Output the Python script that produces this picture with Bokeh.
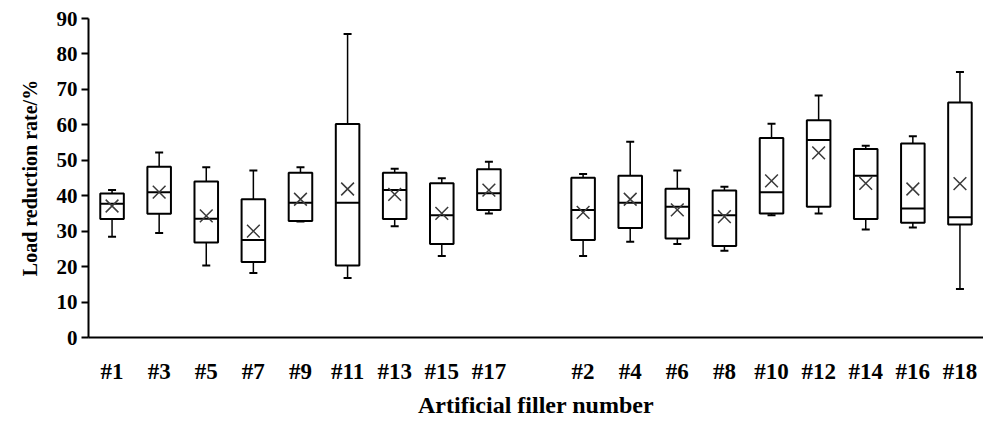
from bokeh.plotting import figure
from bokeh.models import FactorRange, Range1d, ColumnDataSource, FixedTicker, Title
from bokeh.transform import dodge
from bokeh.embed import file_html
from bokeh.resources import INLINE

fillers = ["#1", "#3", "#5", "#7", "#9", "#11", "#13", "#15", "#17",
           "#2", "#4", "#6", "#8", "#10", "#12", "#14", "#16", "#18"]
whisker_low = [28.4, 29.5, 20.3, 18.2, 32.7, 16.8, 31.4, 23.0, 35.0,
               23.0, 27.0, 26.4, 24.5, 34.5, 35.0, 30.5, 31.0, 13.7]
q1 = [33.4, 34.9, 26.8, 21.3, 32.9, 20.3, 33.4, 26.4, 36.0,
      27.5, 30.9, 27.9, 25.8, 35.0, 36.9, 33.4, 32.4, 31.9]
median = [37.7, 41.0, 33.5, 27.5, 38.0, 38.0, 41.6, 34.5, 40.7,
          36.0, 38.0, 36.9, 34.5, 41.0, 55.7, 45.6, 36.4, 33.9]
q3 = [40.6, 48.2, 44.0, 39.0, 46.5, 60.2, 46.5, 43.5, 47.5,
      45.1, 45.6, 42.0, 41.5, 56.3, 61.3, 53.2, 54.7, 66.3]
whisker_high = [41.6, 52.2, 48.0, 47.1, 48.0, 85.6, 47.6, 44.9, 49.6,
                46.1, 55.2, 47.1, 42.5, 60.3, 68.3, 54.1, 56.8, 74.9]
mean = [37.1, 41.0, 34.3, 30.0, 39.0, 41.9, 40.4, 35.0, 41.6,
        35.3, 39.0, 36.0, 34.1, 44.2, 52.1, 43.5, 41.9, 43.4]
y_ticks = [0, 10, 20, 30, 40, 50, 60, 70, 80, 90]

factors = fillers[:9] + [" "] + fillers[9:]

src = ColumnDataSource(dict(x=fillers, wl=whisker_low, q1=q1, med=median,
                            q3=q3, wh=whisker_high, mean=mean))

FONT = "Liberation Serif"

p = figure(width=983, height=421, x_range=FactorRange(*factors, range_padding=0),
           y_range=Range1d(0, 90), output_backend="svg", toolbar_location=None,
           min_border_left=88, min_border_right=0, min_border_top=18,
           min_border_bottom=84)
p.outline_line_color = None
p.xgrid.grid_line_color = None
p.ygrid.grid_line_color = None
p.background_fill_color = "white"
p.border_fill_color = "white"

# whiskers
p.segment(x0="x", y0="wl", x1="x", y1="q1", source=src, line_color="black", line_width=1.5)
p.segment(x0="x", y0="q3", x1="x", y1="wh", source=src, line_color="black", line_width=1.5)
p.scatter(x="x", y="wl", source=src, marker="dash", size=8, line_color="black", line_width=2)
p.scatter(x="x", y="wh", source=src, marker="dash", size=8, line_color="black", line_width=2)

# boxes
p.vbar(x="x", width=0.5, bottom="q1", top="q3", source=src, fill_color="white",
       line_color="black", line_width=2)
p.segment(x0=dodge("x", -0.25, range=p.x_range), y0="med",
          x1=dodge("x", 0.25, range=p.x_range), y1="med",
          source=src, line_color="black", line_width=2)

# mean
p.scatter(x="x", y="mean", source=src, marker="x", size=18, line_color="#3a3a3a",
          line_width=1.5)

# axes
p.yaxis.ticker = FixedTicker(ticks=y_ticks)
p.yaxis.minor_tick_line_color = None
p.yaxis.major_tick_out = 7
p.yaxis.major_tick_in = 0
p.yaxis.major_tick_line_width = 2
p.yaxis.axis_line_width = 2
p.yaxis.major_label_standoff = 4
p.yaxis.major_label_text_font_size = "21px"

p.xaxis.major_tick_line_color = None
p.xaxis.minor_tick_line_color = None
p.xaxis.major_tick_out = 0
p.xaxis.major_tick_in = 0
p.xaxis.axis_line_width = 2
p.xaxis.major_label_standoff = 21
p.xaxis.axis_label = "Artificial filler number"
p.xaxis.axis_label_standoff = 5
p.xaxis.major_label_text_font_size = "23px"
p.xaxis.axis_label_text_font_size = "24px"

for ax in (p.xaxis, p.yaxis):
    ax.major_label_text_font = FONT
    ax.major_label_text_font_style = "bold"
    ax.major_label_text_color = "black"
    ax.axis_label_text_font = FONT
    ax.axis_label_text_font_style = "bold"
    ax.axis_label_text_color = "black"
    ax.axis_line_color = "black"

ytitle = Title(text="Load reduction rate/%", align="center", offset=-55, standoff=26,
               text_font=FONT, text_font_style="bold", text_font_size="20px",
               text_color="black")
p.add_layout(ytitle, "left")

open("out.html", "w").write(file_html(p, INLINE))
